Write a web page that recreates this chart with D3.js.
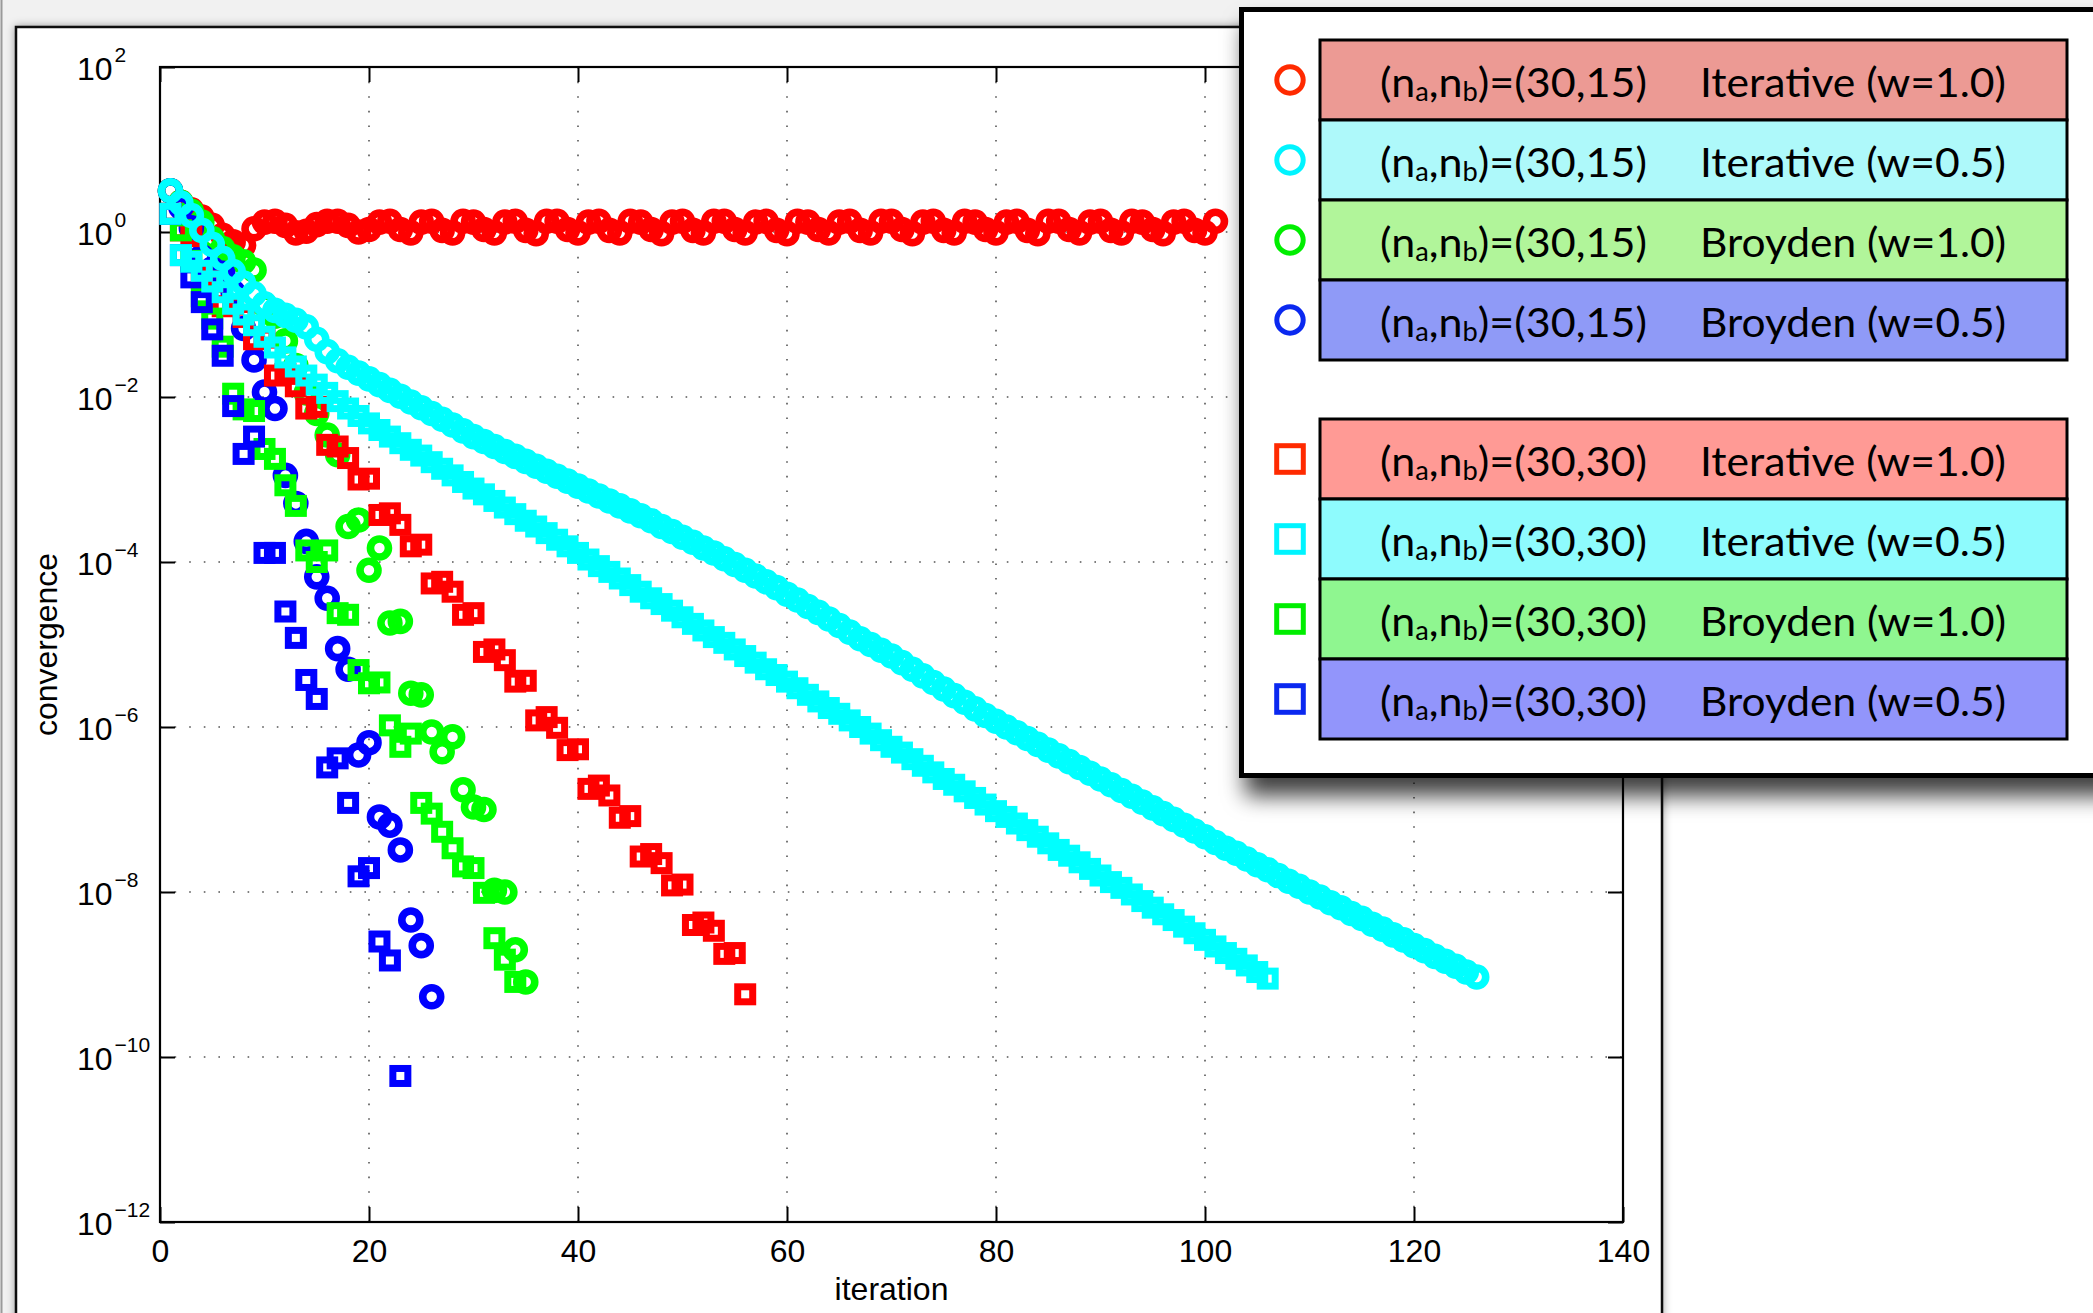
<!DOCTYPE html>
<html>
<head>
<meta charset="utf-8">
<script src="https://cdn.jsdelivr.net/npm/d3@7"></script>
<style>
  html, body { margin: 0; padding: 0; background: #ffffff; }
  svg { display: block; }
</style>
</head>
<body>
<svg id="fig" width="2093" height="1313"></svg>
<script>
// Convergence history, stored as log10 of the convergence measure,
// one entry per iteration (the first entry is iteration 1).

// (na,nb)=(30,15)
const iter10_n15 = [0.5, 0.36, 0.27, 0.18, 0.08, -0.04, -0.12, -0.16, 0.04, 0.12,
  0.13, 0.08, -0.01, 0.01, 0.09, 0.13, 0.13, 0.08, 0.0, 0.03,
  0.12, 0.13, 0.03, -0.01,
  0.12, 0.13, 0.02, -0.01, 0.13, 0.12, 0.03, -0.01, 0.12, 0.13, 0.02, -0.02,
  0.13, 0.13, 0.03, -0.01, 0.12, 0.13, 0.02, -0.01, 0.13, 0.12, 0.03, -0.02,
  0.12, 0.13, 0.02, -0.01, 0.13, 0.13, 0.03, -0.01, 0.12, 0.13, 0.02, -0.02,
  0.13, 0.12, 0.03, -0.01, 0.12, 0.13, 0.02, -0.01, 0.13, 0.13, 0.03, -0.02,
  0.12, 0.13, 0.02, -0.01, 0.13, 0.12, 0.03, -0.01, 0.12, 0.13, 0.02, -0.02,
  0.13, 0.13, 0.03, -0.01, 0.12, 0.13, 0.02, -0.01, 0.13, 0.12, 0.03, -0.02,
  0.12, 0.13, 0.02, -0.01, 0.13];

const iter05_n15 = [0.5, 0.35, 0.2, 0.02, -0.15, -0.32, -0.48, -0.62, -0.75, -0.87,
  -0.95, -1.01, -1.07, -1.15, -1.3, -1.45, -1.56, -1.64, -1.71, -1.78,
  -1.85, -1.92, -1.99, -2.06, -2.13, -2.2, -2.27, -2.34, -2.41, -2.48,
  -2.54, -2.6, -2.66, -2.72, -2.78, -2.84, -2.9, -2.96, -3.02, -3.08,
  -3.14, -3.2, -3.26, -3.32, -3.38, -3.44, -3.5, -3.57, -3.63, -3.7,
  -3.76, -3.83, -3.89, -3.96, -4.03, -4.1, -4.17, -4.24, -4.31, -4.39,
  -4.46, -4.54, -4.61, -4.69, -4.77, -4.85, -4.93, -5.0, -5.07, -5.14,
  -5.22, -5.3, -5.38, -5.46, -5.54, -5.62, -5.7, -5.78, -5.86, -5.93,
  -6.0, -6.07, -6.14, -6.21, -6.28, -6.35, -6.42, -6.49, -6.56, -6.63,
  -6.7, -6.77, -6.84, -6.91, -6.98, -7.05, -7.12, -7.19, -7.26, -7.33,
  -7.4, -7.47, -7.53, -7.6, -7.67, -7.73, -7.8, -7.87, -7.93, -8.0,
  -8.06, -8.13, -8.19, -8.26, -8.32, -8.39, -8.45, -8.52, -8.58, -8.65,
  -8.71, -8.78, -8.84, -8.9, -8.97, -9.03];

const broy10_n15 = [0.5, 0.36, 0.25, 0.12, -0.08, -0.2, -0.3, -0.36, -0.46, -0.88,
  -1.02, -1.32, -1.62, -1.95, -2.2, -2.46, -2.7, -3.57, -3.49, -4.1,
  -3.83, -4.74, -4.72, -5.59, -5.61, -6.06, -6.3, -6.12, -6.76, -6.97,
  -7.0, -7.98, -8.0, -8.7, -9.09];

const broy05_n15 = [0.5, 0.3, 0.05, -0.3, -0.45, -0.5, -0.73, -1.17, -1.55, -1.94,
  -2.14, -2.95, -3.29, -3.75, -4.18, -4.44, -5.05, -5.3, -6.34, -6.19,
  -7.09, -7.19, -7.49, -8.34, -8.65, -9.27];

// (na,nb)=(30,30)
const iter10_n30 = [0.22, 0.02, -0.05, -0.55, -0.6,
  -0.9, -0.88, -1.03, -1.3, -1.28,
  -1.74, -1.72, -1.87, -2.14, -2.12,
  -2.58, -2.6, -2.74, -3.0, -2.99,
  -3.43, -3.41, -3.55, -3.81, -3.79,
  -4.26, -4.24, -4.36, -4.64, -4.62,
  -5.09, -5.06, -5.19, -5.45, -5.44,
  -5.92, -5.88, -6.01, -6.28, -6.27,
  -6.75, -6.71, -6.83, -7.1, -7.08,
  -7.57, -7.54, -7.65, -7.92, -7.91,
  -8.4, -8.37, -8.47, -8.75, -8.74,
  -9.24];

const iter05_n30 = [0.22, -0.28, -0.36, -0.47, -0.6, -0.73, -0.87, -1.0, -1.13, -1.27,
  -1.4, -1.52, -1.63, -1.74, -1.85, -1.95, -2.05, -2.14, -2.23, -2.32,
  -2.4, -2.48, -2.56, -2.64, -2.71, -2.79, -2.87, -2.95, -3.03, -3.11,
  -3.18, -3.26, -3.34, -3.42, -3.5, -3.57, -3.65, -3.73, -3.81, -3.89,
  -3.97, -4.05, -4.12, -4.2, -4.28, -4.36, -4.44, -4.51, -4.59, -4.67,
  -4.75, -4.83, -4.91, -4.98, -5.06, -5.14, -5.22, -5.3, -5.37, -5.45,
  -5.53, -5.61, -5.69, -5.77, -5.84, -5.92, -6.0, -6.08, -6.16, -6.24,
  -6.31, -6.39, -6.47, -6.55, -6.63, -6.7, -6.78, -6.86, -6.94, -7.02,
  -7.09, -7.17, -7.25, -7.33, -7.41, -7.49, -7.56, -7.64, -7.72, -7.8,
  -7.88, -7.95, -8.03, -8.11, -8.19, -8.27, -8.34, -8.42, -8.5, -8.58,
  -8.66, -8.74, -8.81, -8.89, -8.97, -9.05];

const broy10_n30 = [0.22, 0.02, -0.35, -0.78, -1.05, -1.39, -1.96, -2.15, -2.17, -2.63,
  -2.75, -3.07, -3.32, -3.86, -4.0, -3.86, -4.62, -4.64, -5.31, -5.47,
  -5.46, -5.98, -6.24, -6.08, -6.92, -7.05, -7.27, -7.47, -7.69, -7.71,
  -8.01, -8.56, -8.82, -9.09];

const broy05_n30 = [0.22, -0.28, -0.55, -0.85, -1.18, -1.5, -2.11, -2.69, -2.48, -3.89,
  -3.89, -4.6, -4.92, -5.43, -5.66, -6.49, -6.38, -6.92, -7.81, -7.71,
  -8.6, -8.83, -10.23];

// Axis ticks and legend text
const xTicks = [0, 20, 40, 60, 80, 100, 120, 140];
const yTickExponents = [2, 0, -2, -4, -6, -8, -10, -12];
const sizeLabels = ["30,15", "30,30"];
const methodLabels = ["Iterative (w=1.0)", "Iterative (w=0.5)", "Broyden (w=1.0)", "Broyden (w=0.5)"];

// k indexes the method (colour), group the grid size (circle / square)
const seriesColors = ["#ff0000", "#00ffff", "#00ff00", "#0000ff"];
const legendMarkerColors = ["#ff2a00", "#00f4ff", "#00ee00", "#0a28f0"];
const rowFills = [
  ["#ec9a94", "#aef9fa", "#b1f59a", "#8f9af7"],
  ["#ff9a95", "#8efbfd", "#8ff690", "#9295fb"]
];
// drawing order: the w=0.5 iterative runs end up on top
const seriesTable = [
  { values: iter10_n15, group: 0, k: 0 },
  { values: broy10_n15, group: 0, k: 2 },
  { values: broy05_n15, group: 0, k: 3 },
  { values: iter10_n30, group: 1, k: 0 },
  { values: broy10_n30, group: 1, k: 2 },
  { values: broy05_n30, group: 1, k: 3 },
  { values: iter05_n15, group: 0, k: 1 },
  { values: iter05_n30, group: 1, k: 1 }
];

const svg = d3.select("#fig");
const W = 2093, H = 1313;
const plot = { left: 160, right: 1623, top: 67, bottom: 1222 };

const x = d3.scaleLinear().domain([0, 140]).range([plot.left, plot.right]);
const y = d3.scaleLog().domain([1e-12, 1e2]).range([plot.bottom, plot.top]);

const defs = svg.append("defs");
const fShadow = defs.append("filter").attr("id", "legendShadow")
  .attr("x", "-10%").attr("y", "-10%").attr("width", "130%").attr("height", "130%");
fShadow.append("feDropShadow").attr("dx", 6).attr("dy", 18)
  .attr("stdDeviation", 11).attr("flood-color", "#000").attr("flood-opacity", 0.75);
const fFrame = defs.append("filter").attr("id", "frameShadow")
  .attr("x", "-5%").attr("y", "-5%").attr("width", "110%").attr("height", "110%");
fFrame.append("feDropShadow").attr("dx", 0).attr("dy", 0)
  .attr("stdDeviation", 4).attr("flood-color", "#000").attr("flood-opacity", 0.35);

// window backdrop
svg.append("rect").attr("x", 0).attr("y", 0).attr("width", W).attr("height", H).attr("fill", "#ffffff");
svg.append("rect").attr("x", 0).attr("y", 0).attr("width", W).attr("height", 26).attr("fill", "#f1f1f1");
svg.append("rect").attr("x", 0).attr("y", 0).attr("width", 16).attr("height", H).attr("fill", "#f1f1f1");
svg.append("line").attr("x1", 1.5).attr("x2", 1.5).attr("y1", 0).attr("y2", H)
  .attr("stroke", "#9a9a9a").attr("stroke-width", 2);

// figure frame
svg.append("rect").attr("x", 16).attr("y", 27).attr("width", 1646).attr("height", 1400)
  .attr("fill", "#ffffff").attr("stroke", "#111").attr("stroke-width", 2.5)
  .attr("filter", "url(#frameShadow)");

// dotted grid
const grid = svg.append("g").attr("stroke", "#555").attr("stroke-width", 1.6)
  .attr("stroke-dasharray", "1.6 13").attr("fill", "none");
xTicks.filter(v => v > 0 && v < 140).forEach(v => {
  grid.append("line").attr("x1", x(v)).attr("x2", x(v))
    .attr("y1", plot.bottom).attr("y2", plot.top);
});
yTickExponents.filter(e => e < 2 && e > -12).forEach(e => {
  grid.append("line").attr("x1", plot.left).attr("x2", plot.right)
    .attr("y1", y(Math.pow(10, e))).attr("y2", y(Math.pow(10, e)));
});

// axes with inward ticks
const tickLen = 15;
const axisFont = "'Liberation Sans', Arial, Helvetica, sans-serif";
const gx = svg.append("g").attr("transform", `translate(0,${plot.bottom})`)
  .call(d3.axisBottom(x).tickValues(xTicks).tickSizeInner(-tickLen).tickSizeOuter(0).tickPadding(17).tickFormat(d3.format("d")));
gx.selectAll("text").attr("font-family", axisFont).attr("font-size", 32).attr("fill", "#000");
const gxTop = svg.append("g").attr("transform", `translate(0,${plot.top})`)
  .call(d3.axisTop(x).tickValues(xTicks).tickSizeInner(-tickLen).tickSizeOuter(0).tickFormat(""));

const yTickValues = yTickExponents.map(e => Math.pow(10, e));
const gy = svg.append("g").attr("transform", `translate(${plot.left},0)`)
  .call(d3.axisLeft(y).tickValues(yTickValues).tickSizeInner(-tickLen).tickSizeOuter(0).tickFormat(""));
const gyRight = svg.append("g").attr("transform", `translate(${plot.right},0)`)
  .call(d3.axisRight(y).tickValues(yTickValues).tickSizeInner(-tickLen).tickSizeOuter(0).tickFormat(""));

[gx, gxTop, gy, gyRight].forEach(g => {
  g.select(".domain").remove();
  g.selectAll(".tick line").attr("stroke", "#000").attr("stroke-width", 2);
});

// power-of-ten labels
gy.selectAll(".tick").each(function (d) {
  const e = Math.round(Math.log10(d));
  const t = d3.select(this).append("text")
    .attr("x", 77 - plot.left).attr("y", 12)
    .attr("text-anchor", "start").attr("fill", "#000")
    .attr("font-family", axisFont).attr("font-size", 32);
  t.append("tspan").text("10");
  t.append("tspan").attr("dx", 2).attr("dy", -18).attr("font-size", 21)
    .text(e < 0 ? "\u2212" + Math.abs(e) : String(e));
});

// plot box
svg.append("rect").attr("x", plot.left).attr("y", plot.top)
  .attr("width", plot.right - plot.left).attr("height", plot.bottom - plot.top)
  .attr("fill", "none").attr("stroke", "#000").attr("stroke-width", 2.2);

// axis titles
svg.append("text").attr("x", (plot.left + plot.right) / 2).attr("y", 1300)
  .attr("text-anchor", "middle").attr("font-family", axisFont).attr("font-size", 32)
  .attr("fill", "#000").text("iteration");
svg.append("text").attr("transform", `translate(57,${(plot.top + plot.bottom) / 2}) rotate(-90)`)
  .attr("text-anchor", "middle").attr("font-family", axisFont).attr("font-size", 32)
  .attr("fill", "#000").text("convergence");

// markers
const circleR = 9, circleW = 7.6;
const squareS = 15, squareW = 7;
const marks = svg.append("g").attr("fill", "none");
seriesTable.forEach(s => {
  const pts = s.values.map((v, i) => ({ it: i + 1, val: Math.pow(10, v) }));
  const color = seriesColors[s.k];
  if (s.group === 0) {
    marks.append("g").selectAll("circle").data(pts).join("circle")
      .attr("cx", d => x(d.it)).attr("cy", d => y(d.val)).attr("r", circleR)
      .attr("stroke", color).attr("stroke-width", circleW);
  } else {
    marks.append("g").selectAll("rect").data(pts).join("rect")
      .attr("x", d => x(d.it) - squareS / 2).attr("y", d => y(d.val) - squareS / 2)
      .attr("width", squareS).attr("height", squareS)
      .attr("stroke", color).attr("stroke-width", squareW);
  }
});

// legend
const legendFont = "Lato, 'Open Sans', sans-serif";
const lg = svg.append("g");
lg.append("rect").attr("x", 1241.5).attr("y", 9.5).attr("width", 900).attr("height", 766)
  .attr("fill", "#fff").attr("stroke", "#000").attr("stroke-width", 5)
  .attr("filter", "url(#legendShadow)");

const groupTops = [40, 419];
groupTops.forEach((gTop, gi) => {
  methodLabels.forEach((label, k) => {
    const top = gTop + k * 80;
    const cy = top + 40;
    lg.append("rect").attr("x", 1320).attr("y", top).attr("width", 747).attr("height", 80)
      .attr("fill", rowFills[gi][k]).attr("stroke", "#000").attr("stroke-width", 3);
    if (gi === 0) {
      lg.append("circle").attr("cx", 1290).attr("cy", cy).attr("r", 13.2)
        .attr("fill", "none").attr("stroke", legendMarkerColors[k]).attr("stroke-width", 5);
    } else {
      lg.append("rect").attr("x", 1290 - 13.3).attr("y", cy - 13.3).attr("width", 26.6).attr("height", 26.6)
        .attr("fill", "none").attr("stroke", legendMarkerColors[k]).attr("stroke-width", 5);
    }
    const t1 = lg.append("text").attr("x", 1380).attr("y", top + 57)
      .attr("font-family", legendFont).attr("font-size", 41).attr("fill", "#000")
      .attr("textLength", 267).attr("lengthAdjust", "spacingAndGlyphs");
    t1.append("tspan").text("(n");
    t1.append("tspan").attr("font-size", 26).attr("dy", 4).text("a");
    t1.append("tspan").attr("dy", -4).text(",n");
    t1.append("tspan").attr("font-size", 26).attr("dy", 4).text("b");
    t1.append("tspan").attr("dy", -4).text(")=(" + sizeLabels[gi] + ")");
    lg.append("text").attr("x", 1700).attr("y", top + 57)
      .attr("font-family", legendFont).attr("font-size", 41).attr("fill", "#000")
      .attr("textLength", 306).attr("lengthAdjust", "spacingAndGlyphs")
      .text(label);
  });
});
</script>
</body>
</html>
